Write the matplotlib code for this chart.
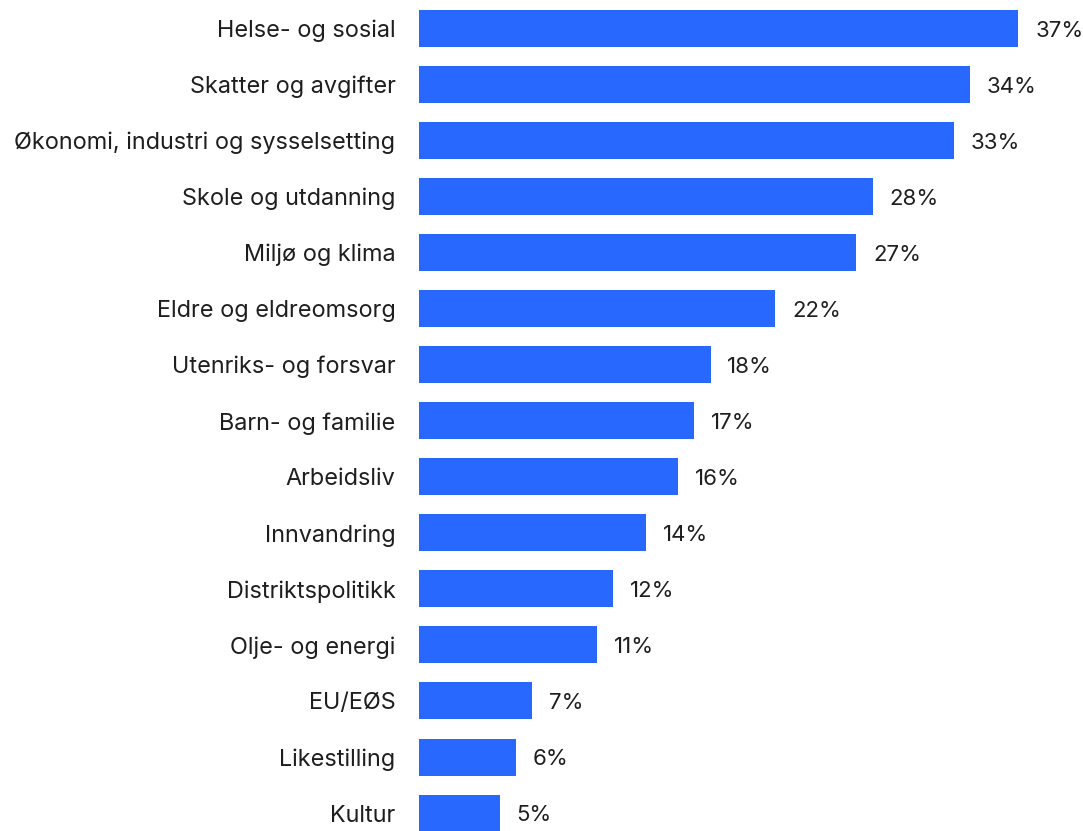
import matplotlib
matplotlib.use('Agg')
import matplotlib.pyplot as plt

plt.rcParams['font.family'] = ['Inter', 'DejaVu Sans']

categories = ['Helse- og sosial', 'Skatter og avgifter', 'Økonomi, industri og sysselsetting',
              'Skole og utdanning', 'Miljø og klima', 'Eldre og eldreomsorg',
              'Utenriks- og forsvar', 'Barn- og familie', 'Arbeidsliv', 'Innvandring',
              'Distriktspolitikk', 'Olje- og energi', 'EU/EØS', 'Likestilling', 'Kultur']
values = [37, 34, 33, 28, 27, 22, 18, 17, 16, 14, 12, 11, 7, 6, 5]

W, H = 1083, 831
fig = plt.figure(figsize=(W/100, H/100), dpi=100)
ax = fig.add_axes([419/W, 0, (W-419)/W, 1])

ypos = list(range(len(categories)))
ax.barh(ypos, values, height=0.66, color='#2968ff')

pxper = 16.2
ax.set_xlim(0, (W-419)/pxper)
ax.set_ylim((H-28.5)/56.04, -28.5/56.04)

for y, v in zip(ypos, values):
    ax.annotate(f'{v}%', (v, y), xytext=(12, -1.5), textcoords='offset points',
                va='center', ha='left', fontsize=16, color='#1e1e1e')

ax.set_yticks(ypos)
ax.set_yticklabels(categories, fontsize=16.9, color='#1e1e1e')
ax.tick_params(axis='y', length=0, pad=17)
ax.set_xticks([])
for s in ax.spines.values():
    s.set_visible(False)

fig.savefig('out.png', dpi=100)
